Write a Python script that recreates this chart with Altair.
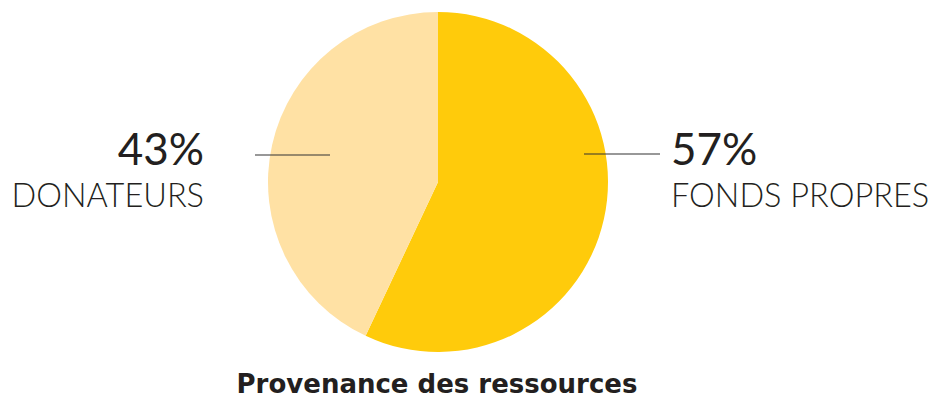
import altair as alt
import pandas as pd

categories = ["FONDS PROPRES", "DONATEURS"]
shares = [57, 43]
colors = ["#FFCB0B", "#FFE1A4"]
title_text = "Provenance des ressources"

df = pd.DataFrame({
    "category": categories,
    "share": shares,
    "order": [1, 2],
    "pct": [f"{s}%" for s in shares],
})

FONT = "Lato"
INK = "#231F20"

base = alt.Chart(df)

pie = base.mark_arc(radius=170, stroke=None).encode(
    theta=alt.Theta("share:Q", stack=True),
    order=alt.Order("order:Q"),
    color=alt.Color("category:N", scale=alt.Scale(domain=categories, range=colors), legend=None),
    x=alt.value(438),
    y=alt.value(182),
)

def label_layers(cat, x, align):
    sub = base.transform_filter(alt.datum.category == cat)
    pct = sub.mark_text(font=FONT, fontSize=44, color=INK, align=align, baseline="alphabetic").encode(
        text="pct:N", x=alt.value(x), y=alt.value(165)
    )
    name = sub.mark_text(font=FONT, fontSize=32.5, fontWeight=300, color=INK, align=align, baseline="alphabetic").encode(
        text="category:N", x=alt.value(x), y=alt.value(207)
    )
    return pct + name

left = label_layers("DONATEURS", 204, "right")
right = label_layers("FONDS PROPRES", 671, "left")

rule_l = base.transform_filter(alt.datum.category == "DONATEURS").mark_rule(color="#333333", strokeWidth=1.2).encode(
    x=alt.value(255), x2=alt.value(330), y=alt.value(155)
)
rule_r = base.transform_filter(alt.datum.category == "FONDS PROPRES").mark_rule(color="#333333", strokeWidth=1.2).encode(
    x=alt.value(584), x2=alt.value(660), y=alt.value(154)
)

title = base.transform_filter(alt.datum.order == 1).mark_text(
    font="DejaVu Sans", fontSize=26, fontWeight="bold", color=INK, align="center", baseline="alphabetic"
).encode(text=alt.value(title_text), x=alt.value(437), y=alt.value(393))

chart = alt.layer(pie, rule_l, rule_r, left, right, title).properties(
    width=934, height=402, padding=0, autosize=alt.AutoSizeParams(type="none")
).configure_view(stroke=None)

chart.save("out.html", embed_options={"renderer": "svg", "actions": False})
